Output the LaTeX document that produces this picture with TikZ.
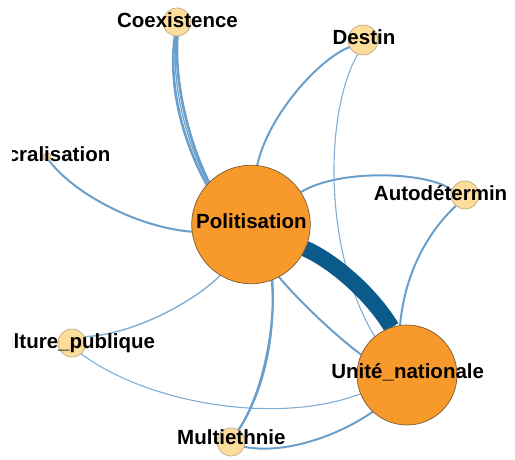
\documentclass[tikz,border=0pt]{standalone}
\usepackage{fontspec}
\setmainfont{Liberation Sans}
\pgfdeclarelayer{edges}
\pgfsetlayers{edges,main}
\definecolor{edgeblue}{HTML}{6A9FCC}
\definecolor{thickblue}{HTML}{0B5A8C}
\definecolor{smallfill}{HTML}{FDDD9C}
\definecolor{smallborder}{HTML}{B8A27A}
\definecolor{bigfill}{HTML}{F7992B}
\definecolor{bigborder}{HTML}{7A5A30}
\tikzset{
  smallnode/.style={circle,fill=smallfill,draw=smallborder,line width=0.6pt,inner sep=0pt,outer sep=0pt,minimum size=28pt},
  bignode/.style={circle,fill=bigfill,draw=bigborder,line width=0.7pt,inner sep=0pt,outer sep=0pt},
  lbl/.style={anchor=base,inner sep=0pt,font=\bfseries\fontsize{20.5}{24}\selectfont},
  link/.style={draw=edgeblue,line width=2pt},
  thinlink/.style={draw=edgeblue!85,line width=1.1pt},
  heavylink/.style={draw=thickblue,line width=16pt}
}
\begin{document}
\begin{tikzpicture}[x=1pt,y=-1pt]
\useasboundingbox (0,0) rectangle (515,460);
\begin{scope}
\clip (12,0) rectangle (506,460);
% circles
\node[bignode,minimum size=118.5pt] (P) at (251,224.5) {};
\node[bignode,minimum size=100pt] (U) at (407,375) {};
\node[smallnode] (C) at (177,22) {};
\node[smallnode,minimum size=30pt] (D) at (363,40) {};
\node[smallnode,minimum size=8pt] (S) at (47,157) {};
\node[smallnode] (A) at (465,195) {};
\node[smallnode] (CP) at (72,343) {};
\node[smallnode] (M) at (231,442) {};
% labels
\node[lbl] (Pl) at (251.4,228.5) {Politisation};
\node[lbl] (Ul) at (407.7,378.5) {Unité\_nationale};
\node[lbl] (Cl) at (177.5,27.2) {Coexistence};
\node[lbl] (Dl) at (364,44.8) {Destin};
\node[lbl] (Sl) at (46.5,161.3) {Sacralisation};
\node[lbl] (Al) at (465.1,200.6) {Autodétermination};
\node[lbl] (CPl) at (70.7,348.2) {Culture\_publique};
\node[lbl] (Ml) at (231.3,444.2) {Multiethnie};
\end{scope}
\begin{pgfonlayer}{edges}
\clip (12,0) rectangle (506,460);
% Coexistence - Politisation (bundle)
\draw[link,line width=2.6pt] (C.262) .. controls (168,84) and (182,140) .. (P.138);
\draw[link,line width=2.6pt] (C.272) .. controls (174,81) and (188,140) .. (P.135);
\draw[link,line width=1.2pt] (C.267) .. controls (171,82) and (185,140) .. (P.136.5);
% Destin - Politisation
\draw[link] (D.208) .. controls (320,58) and (268,115) .. (P.84);
% Destin - Unite (thin)
\draw[thinlink] (D.250) .. controls (325,110) and (322,250) .. (U.130);
% Sacralisation - Politisation
\draw[link] (S.300) .. controls (75,195) and (140,228) .. (P.187);
% Autodetermination - Politisation
\draw[link] (A.160) .. controls (430,172) and (340,168) .. (P.33);
% Autodetermination - Unite
\draw[link] (A.230) .. controls (430,230) and (405,270) .. (U.98);
% Politisation - Unite (heavy)
\draw[heavylink] (P.-24) .. controls (335,262) and (372,295) .. (U.108);
% Politisation - Unite (light)
\draw[link] (P.-62) .. controls (298,300) and (338,338) .. (U.156);
% Culture_publique - Politisation
\draw[thinlink,line width=1.4pt] (CP.27) .. controls (130,335) and (190,305) .. (P.239);
% Culture_publique - Unite
\draw[thinlink] (CP.-50) .. controls (150,405) and (280,425) .. (U.202);
% Multiethnie - Politisation (two close strands)
\draw[link,line width=2.2pt] (M.58) .. controls (262,395) and (276,330) .. (P.-69);
\draw[link,line width=1.4pt] (M.60) .. controls (264,395) and (277.5,330) .. (P.-70);
% Multiethnie - Unite
\draw[link] (M.-20) .. controls (285,455) and (340,435) .. (U.227);
\end{pgfonlayer}
\end{tikzpicture}
\end{document}
